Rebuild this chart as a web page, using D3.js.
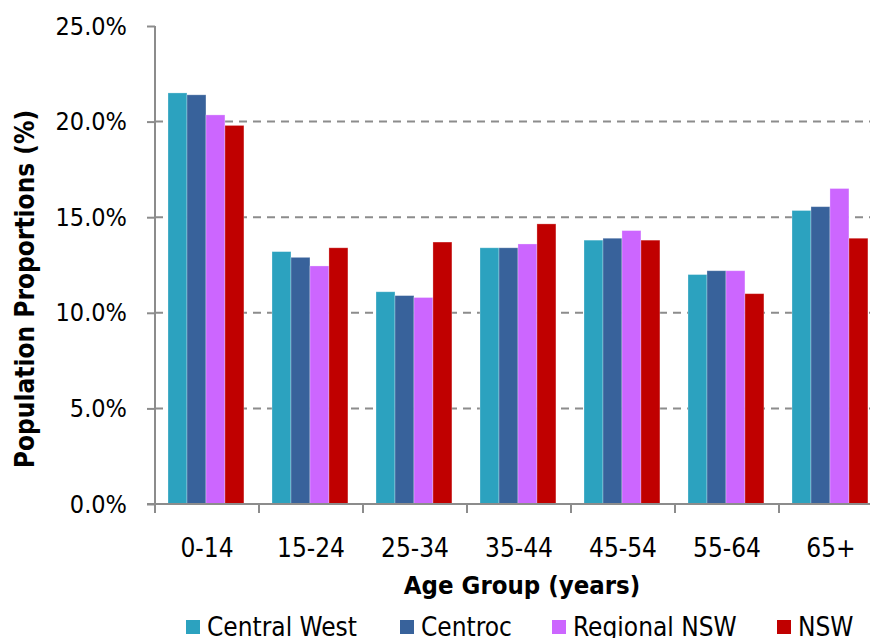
<!DOCTYPE html>
<html>
<head>
<meta charset="utf-8">
<script src="https://cdn.jsdelivr.net/npm/d3@7/dist/d3.min.js"></script>
<style>
  html, body { margin: 0; padding: 0; background: #ffffff; overflow: hidden; }
  svg { display: block; }
  text { font-family: "DejaVu Sans Condensed", "DejaVu Sans", Verdana, sans-serif; fill: #000; }
</style>
</head>
<body>
<svg id="chart" width="870" height="638"></svg>
<script>
// Population share by age group, in percent
const ageGroups = ["0-14", "15-24", "25-34", "35-44", "45-54", "55-64", "65+"];
const seriesNames = ["Central West", "Centroc", "Regional NSW", "NSW"];
const centralWest = [21.5, 13.2, 11.1, 13.4, 13.8, 12.0, 15.35];
const centroc     = [21.4, 12.9, 10.9, 13.4, 13.9, 12.2, 15.55];
const regionalNSW = [20.35, 12.45, 10.8, 13.6, 14.3, 12.2, 16.5];
const nsw         = [19.8, 13.4, 13.7, 14.65, 13.8, 11.0, 13.9];
const yTicks = [0, 5, 10, 15, 20, 25];
const seriesColors = ["#2CA2BF", "#38629B", "#CC66FF", "#C00000"];

const seriesValues = [centralWest, centroc, regionalNSW, nsw];
const rows = ageGroups.map((g, i) => ({
  group: g,
  values: seriesNames.map((s, k) => ({ series: s, value: seriesValues[k][i] }))
}));

const svg = d3.select("#chart");
const axisColor = "#8c8c8c";

// Plot frame
const plotLeft = 155, plotTop = 26, plotBottom = 504;
const bandW = 104;
const plotRight = plotLeft + bandW * ageGroups.length;

const x0 = d3.scaleBand().domain(ageGroups).range([plotLeft, plotRight]).padding(0);
const x1 = d3.scaleBand().domain(seriesNames)
  .range([bandW * 0.125, bandW * 0.855]).padding(0);
const y = d3.scaleLinear().domain([0, 25]).range([plotBottom, plotTop]);
const color = d3.scaleOrdinal().domain(seriesNames).range(seriesColors);

// Dashed horizontal gridlines (not at the top value)
svg.append("g")
  .selectAll("line")
  .data(yTicks.filter(t => t > 0 && t < 25))
  .join("line")
  .attr("x1", plotLeft).attr("x2", 870)
  .attr("y1", d => y(d)).attr("y2", d => y(d))
  .attr("stroke", axisColor)
  .attr("stroke-width", 2)
  .attr("stroke-dasharray", "8,6");

// Bars
svg.append("g")
  .selectAll("g")
  .data(rows)
  .join("g")
  .attr("transform", d => `translate(${x0(d.group)},0)`)
  .selectAll("rect")
  .data(d => d.values)
  .join("rect")
  .attr("x", d => x1(d.series))
  .attr("width", x1.bandwidth())
  .attr("y", d => y(d.value))
  .attr("height", d => y(0) - y(d.value))
  .attr("fill", d => color(d.series))
  .attr("stroke", "rgba(255,255,255,0.35)")
  .attr("stroke-width", 0.8);

// Y axis
const yAxis = d3.axisLeft(y)
  .tickValues(yTicks)
  .tickSize(8)
  .tickPadding(20)
  .tickFormat(d => d3.format(".1f")(d) + "%");
const gy = svg.append("g")
  .attr("transform", `translate(${plotLeft},0)`)
  .call(yAxis);
gy.select(".domain").remove();
gy.append("line")
  .attr("x1", 0).attr("x2", 0)
  .attr("y1", plotTop).attr("y2", plotBottom + 9)
  .attr("stroke", axisColor).attr("stroke-width", 2);
gy.selectAll(".tick line").attr("stroke", axisColor).attr("stroke-width", 2);
gy.selectAll(".tick text")
  .attr("font-size", 25)
  .attr("fill", "#000")
  .attr("font-family", "DejaVu Sans Condensed, DejaVu Sans, Verdana, sans-serif");

// X axis: ticks sit on category boundaries
const gx = svg.append("g");
gx.append("line")
  .attr("x1", plotLeft - 8).attr("x2", 870)
  .attr("y1", plotBottom).attr("y2", plotBottom)
  .attr("stroke", axisColor).attr("stroke-width", 2);
gx.selectAll("line.tick")
  .data(ageGroups)
  .join("line")
  .attr("class", "tick")
  .attr("x1", d => x0(d)).attr("x2", d => x0(d))
  .attr("y1", plotBottom).attr("y2", plotBottom + 9)
  .attr("stroke", axisColor).attr("stroke-width", 2);
gx.selectAll("text")
  .data(ageGroups)
  .join("text")
  .attr("x", d => x0(d) + x0.bandwidth() / 2)
  .attr("y", 557)
  .attr("text-anchor", "middle")
  .attr("font-size", 26)
  .text(d => d);

// Axis titles
svg.append("text")
  .attr("transform", "translate(34,289) rotate(-90)")
  .attr("text-anchor", "middle")
  .attr("font-size", 26)
  .attr("font-weight", "bold")
  .text("Population Proportions (%)");

svg.append("text")
  .attr("x", 522).attr("y", 594)
  .attr("text-anchor", "middle")
  .attr("font-size", 25.5)
  .attr("font-weight", "bold")
  .text("Age Group (years)");

// Legend
const legendX = [186, 400, 552, 777];
const legend = svg.append("g")
  .selectAll("g")
  .data(seriesNames)
  .join("g")
  .attr("transform", (d, i) => `translate(${legendX[i]},0)`);
legend.append("rect")
  .attr("x", 0).attr("y", 620)
  .attr("width", 14).attr("height", 14)
  .attr("fill", d => color(d));
legend.append("text")
  .attr("x", 21).attr("y", 636)
  .attr("font-size", 26)
  .text(d => d);
</script>
</body>
</html>
